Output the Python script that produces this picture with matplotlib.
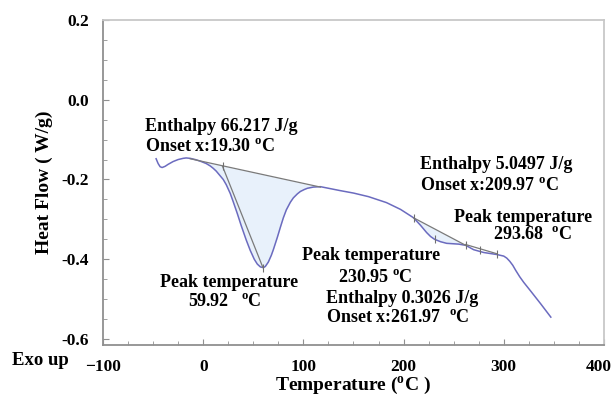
import numpy as np
import matplotlib.pyplot as plt
import matplotlib.transforms as mtransforms
from matplotlib.ticker import MultipleLocator

plt.rcParams['font.family'] = ['Liberation Serif', 'DejaVu Serif']
plt.rcParams['font.weight'] = 'bold'
plt.rcParams['axes.labelweight'] = 'bold'
plt.rcParams['mathtext.fontset'] = 'custom'
plt.rcParams['mathtext.rm'] = 'Liberation Serif:bold'
plt.rcParams['mathtext.it'] = 'Liberation Serif:bold'
plt.rcParams['mathtext.bf'] = 'Liberation Serif:bold'

# DSC scan: temperature (C) vs heat flow (W/g)
temp = [-47, -45, -43, -41, -38, -35, -30, -25, -20, -17, -13, -8, -3, 3, 7,
        10, 13, 16, 20, 23, 27, 30, 34, 38, 43, 47, 51, 54, 57, 60, 62, 65,
        68, 70, 74, 77, 80, 83, 87, 90, 94, 97, 101, 104, 110, 117, 127, 137,
        150, 165, 183, 197, 210, 217, 223, 227, 231, 237, 243, 255, 262, 270,
        280, 293, 300, 303, 306, 309, 312, 316, 320, 327, 337, 347]
heat_flow = [-0.148, -0.160, -0.168, -0.170, -0.167, -0.162, -0.155, -0.150,
             -0.147, -0.146, -0.147, -0.150, -0.154, -0.160, -0.166, -0.172,
             -0.179, -0.188, -0.200, -0.213, -0.235, -0.256, -0.285, -0.316,
             -0.352, -0.378, -0.400, -0.412, -0.419, -0.421, -0.418, -0.407,
             -0.390, -0.376, -0.345, -0.320, -0.296, -0.276, -0.257, -0.246,
             -0.236, -0.230, -0.225, -0.222, -0.219, -0.218, -0.223, -0.228,
             -0.234, -0.243, -0.258, -0.275, -0.296, -0.315, -0.333, -0.343,
             -0.350, -0.356, -0.360, -0.362, -0.365, -0.376, -0.383, -0.388,
             -0.392, -0.397, -0.405, -0.415, -0.428, -0.444, -0.458, -0.480,
             -0.512, -0.545]

# integration baselines (start, end) for each event
base1_t = [-13, 117]
base1_h = [-0.148, -0.219]
base2_t = [210, 262]
base2_h = [-0.296, -0.365]
base3_t = [262, 293]
base3_h = [-0.363, -0.386]
# onset tangent of the first melting peak
tang_t = [19.3, 59.5]
tang_h = [-0.167, -0.420]
# small marks at onset / peak positions
mark_t = [19.3, 60, 210, 231, 262, 276, 293]
mark_h = [-0.167, -0.421, -0.296, -0.350, -0.365, -0.376, -0.388]

fig = plt.figure(figsize=(6.15, 3.98), dpi=100)
ax = fig.add_axes([0.1675, 0.133, 0.8145, 0.817])

t = np.array(temp)
h = np.array(heat_flow)

for bt, bh in [(base1_t, base1_h), (base2_t, base2_h)]:
    sel = (t >= bt[0]) & (t <= bt[1])
    tt = np.concatenate([[bt[0]], t[sel], [bt[1]]])
    hh = np.concatenate([[bh[0]], h[sel], [bh[1]]])
    ax.fill_between(tt, hh, np.interp(tt, bt, bh), color='#e8f1fb', lw=0)

ax.plot(temp, heat_flow, color='#6b6bbf', lw=1.1)
for bt, bh in [(base1_t, base1_h), (base2_t, base2_h), (base3_t, base3_h),
               (tang_t, tang_h)]:
    ax.plot(bt, bh, color='#7a7a7a', lw=0.9)
ax.plot(mark_t, mark_h, ls='none', marker='|', ms=6, mew=0.8, color='#707070')

ax.set_xlim(-100, 400)
ax.set_ylim(-0.615, 0.2)
ax.set_xticks([-100, 0, 100, 200, 300, 400])
ax.xaxis.set_minor_locator(MultipleLocator(25))
ax.yaxis.set_minor_locator(MultipleLocator(0.05))
ax.set_yticks([0.2, 0.0, -0.2, -0.4, -0.6])
ax.set_yticklabels(['0.2', '0.0', '-0.2', '-0.4', '-0.6'])
ax.tick_params(which='both', direction='in', color='#909090', labelsize=12.5)
ax.tick_params(which='major', length=4)
ax.tick_params(which='minor', length=3)
ax.tick_params(axis='x', pad=10)
ax.tick_params(axis='y', pad=10)
# keep the last x label inside the figure
last = ax.get_xticklabels()[-1]
last.set_transform(last.get_transform() +
                   mtransforms.ScaledTranslation(-5 / 100, 0, fig.dpi_scale_trans))
for side in ['left', 'bottom']:
    ax.spines[side].set_color('#909090')
for side in ['top', 'right']:
    ax.spines[side].set_color('#c8c8c8')
for s in ax.spines.values():
    s.set_linewidth(1.3)

ax.set_ylabel('Heat Flow ( W/g)', fontsize=14, labelpad=6)
ax.set_xlabel('Temperature ($^{o}$C )', fontsize=14, labelpad=0)
fig.text(0.02, 0.095, 'Exo up', fontsize=13.5, va='center')

fs = 13
ax.text(-58.5, -0.0675, 'Enthalpy 66.217 J/g', fontsize=fs, va='center')
ax.text(-58.5, -0.1175, 'Onset x:19.30 $^{o}$C', fontsize=fs, va='center')
ax.text(-43, -0.4575, 'Peak temperature', fontsize=fs, va='center')
ax.text(-15, -0.505, '59.92   $^{o}$C', fontsize=fs, va='center')
ax.text(216.5, -0.1625, 'Enthalpy 5.0497 J/g', fontsize=fs, va='center')
ax.text(216.5, -0.215, 'Onset x:209.97 $^{o}$C', fontsize=fs, va='center')
ax.text(250, -0.295, 'Peak temperature', fontsize=fs, va='center')
ax.text(289, -0.3375, '293.68  $^{o}$C', fontsize=fs, va='center')
ax.text(99, -0.39, 'Peak temperature', fontsize=fs, va='center')
ax.text(135, -0.445, '230.95 $^{o}$C', fontsize=fs, va='center')
ax.text(123, -0.4975, 'Enthalpy 0.3026 J/g', fontsize=fs, va='center')
ax.text(123, -0.545, 'Onset x:261.97  $^{o}$C', fontsize=fs, va='center')

fig.savefig('out.png', dpi=100)
